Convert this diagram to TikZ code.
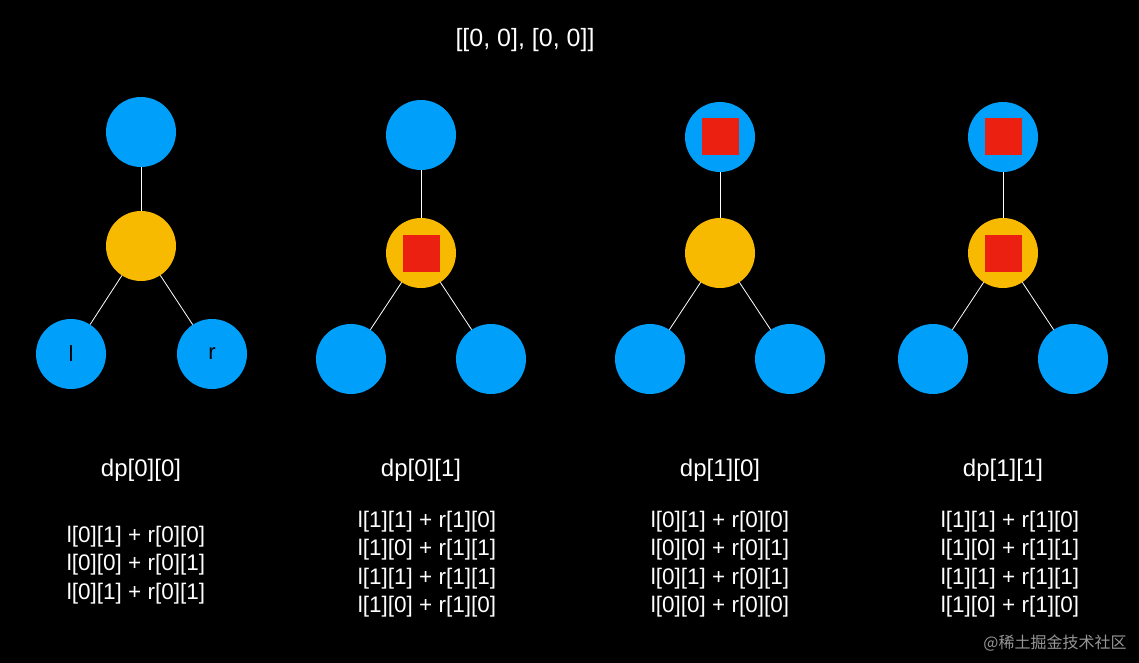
\documentclass[tikz,border=0pt]{standalone}
\usepackage{fontspec}
\setmainfont{Liberation Sans}
\newfontfamily\cjk{Noto Sans CJK SC}
\begin{document}
\begin{tikzpicture}[x=1pt,y=-1pt,
  blue/.style={circle,fill={rgb,255:red,0;green,160;blue,250},minimum size=70pt,inner sep=0pt,font=\fontsize{22}{24}\selectfont},
  yel/.style={circle,fill={rgb,255:red,248;green,186;blue,0},minimum size=70pt,inner sep=0pt},
  sq/.style={fill={rgb,255:red,235;green,32;blue,16},minimum size=37pt,inner sep=0pt},
  edge/.style={draw=white,line width=0.8pt},
  txt/.style={text=white,font=\fontsize{24}{28.5}\selectfont,align=center},
  etxt/.style={text=white,font=\fontsize{22.5}{28.5}\selectfont,align=center}]
\fill[black] (0,0) rectangle (1139,663);
\useasboundingbox (0,0) rectangle (1139,663);
\node[txt,font=\fontsize{25}{28}\selectfont] (title) at (525,40) {[[0, 0], [0, 0]]};
% tree 1
\node[blue] (t1) at (141,132) {};
\node[yel] (m1) at (141,246) {};
\node[blue] (l1) at (71,354) {l};
\node[blue] (r1) at (212,354) {r};
% tree 2
\node[blue] (t2) at (421,135) {};
\node[yel] (m2) at (421,253) {};
\node[sq] (s2) at (421,253) {};
\node[blue] (l2) at (351,359) {};
\node[blue] (r2) at (491,359) {};
% tree 3
\node[blue] (t3) at (720,137) {};
\node[sq] (st3) at (720,137) {};
\node[yel] (m3) at (720,253) {};
\node[blue] (l3) at (650,359) {};
\node[blue] (r3) at (790,359) {};
% tree 4
\node[blue] (t4) at (1003,137) {};
\node[sq] (st4) at (1003,137) {};
\node[yel] (m4) at (1003,253) {};
\node[sq] (s4) at (1003,253) {};
\node[blue] (l4) at (933,359) {};
\node[blue] (r4) at (1073,359) {};
\foreach \i in {1,2,3,4}{
  \draw[edge] (t\i) -- (m\i);
  \draw[edge] (m\i) -- (l\i);
  \draw[edge] (m\i) -- (r\i);
}
\node[txt] (d1) at (141,470) {dp[0][0]};
\node[txt] (d2) at (421,470) {dp[0][1]};
\node[txt] (d3) at (720,470) {dp[1][0]};
\node[txt] (d4) at (1003,470) {dp[1][1]};
\node[etxt] (e1) at (136,565) {l[0][1] + r[0][0]\\l[0][0] + r[0][1]\\l[0][1] + r[0][1]};
\node[etxt] (e2) at (427,564) {l[1][1] + r[1][0]\\l[1][0] + r[1][1]\\l[1][1] + r[1][1]\\l[1][0] + r[1][0]};
\node[etxt] (e3) at (720,564) {l[0][1] + r[0][0]\\l[0][0] + r[0][1]\\l[0][1] + r[0][1]\\l[0][0] + r[0][0]};
\node[etxt] (e4) at (1010,564) {l[1][1] + r[1][0]\\l[1][0] + r[1][1]\\l[1][1] + r[1][1]\\l[1][0] + r[1][0]};
\node[text={rgb,255:red,150;green,150;blue,150},font=\cjk\fontsize{16}{18}\selectfont] (wm) at (1055,643) {@稀土掘金技术社区};
\end{tikzpicture}
\end{document}
